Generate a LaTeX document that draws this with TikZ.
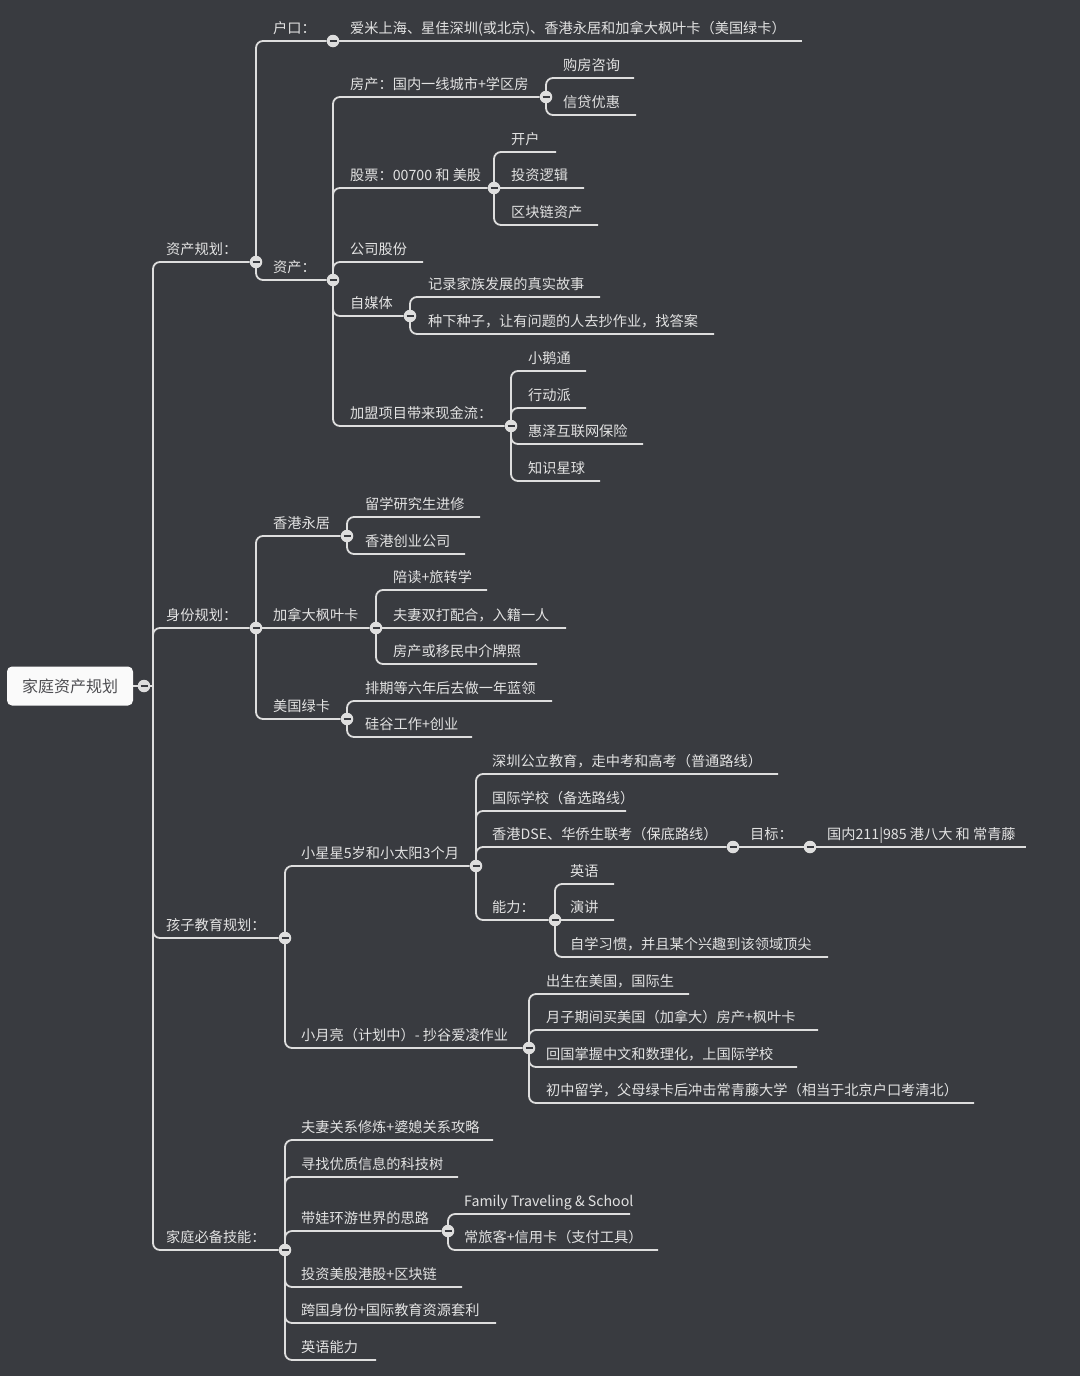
\documentclass[tikz,border=0pt]{standalone}
\usepackage{fontspec}
\setmainfont{Noto Sans CJK SC}
\usetikzlibrary{backgrounds}

\definecolor{bgcol}{RGB}{57,59,64}
\definecolor{linecol}{RGB}{222,222,222}
\definecolor{txtcol}{RGB}{226,226,226}
\definecolor{rootcol}{RGB}{78,78,82}

\tikzset{
  lbl/.style={anchor=base west, inner sep=0pt, yshift=-2pt, text=txtcol, font=\fontsize{14.2}{16}\selectfont},
  branch/.style={draw=linecol, line width=1.8pt, rounded corners=7pt},
  fold/.style={circle, fill=linecol, inner sep=0pt, minimum size=12.5pt,
    path picture={\draw[bgcol, line width=1.6pt]
      ([xshift=-3.5pt]path picture bounding box.center) -- ([xshift=3.5pt]path picture bounding box.center);}},
  rootbox/.style={fill=white!96!gray, rounded corners=5pt, minimum width=126pt, minimum height=39pt,
    text=rootcol, font=\fontsize{16}{18}\selectfont}
}

\begin{document}
\begin{tikzpicture}[x=1pt, y=-1pt]
  \begin{scope}[on background layer]
    \fill[bgcol] (0,0) rectangle (1080,1376);
  \end{scope}

  % Root
  \node[rootbox] (n0) at (70,686) {家庭资产规划};
  \node[fold] (c0) at (144,686) {};
  \coordinate (j0) at (153,686);

  % Level 1
  \node[lbl] (t1) at (166,252) {资产规划：};
  \node[fold] (c1) at (256,262) {};
  \node[lbl] (t2) at (166,618) {身份规划：};
  \node[fold] (c2) at (256,628) {};
  \node[lbl] (t3) at (166,928) {孩子教育规划：};
  \node[fold] (c3) at (285,938) {};
  \node[lbl] (t4) at (166,1240) {家庭必备技能：};
  \node[fold] (c4) at (285,1250) {};

  % Asset planning
  \node[lbl] (t11) at (273,31) {户口：};
  \node[fold] (c11) at (333,41) {};
  \node[lbl] (t111) at (350,31) {爱米上海、星佳深圳(或北京)、香港永居和加拿大枫叶卡（美国绿卡）};
  \coordinate (u111) at (802,41);
  \node[lbl] (t12) at (273,270) {资产：};
  \node[fold] (c12) at (333,280) {};

  \node[lbl] (t121) at (350,87) {房产：国内一线城市+学区房};
  \node[fold] (c121) at (546,97) {};
  \node[lbl] (t1211) at (563,68) {购房咨询};
  \coordinate (u1211) at (634,78);
  \node[lbl] (t1212) at (563,105) {信贷优惠};
  \coordinate (u1212) at (636,115);

  \node[lbl] (t122) at (350,178) {股票：00700 和 美股};
  \node[fold] (c122) at (494,188) {};
  \node[lbl] (t1221) at (511,142) {开户};
  \coordinate (u1221) at (556,152);
  \node[lbl] (t1222) at (511,178) {投资逻辑};
  \coordinate (u1222) at (584,188);
  \node[lbl] (t1223) at (511,215) {区块链资产};
  \coordinate (u1223) at (598,225);

  \node[lbl] (t123) at (350,252) {公司股份};
  \coordinate (u123) at (423,262);

  \node[lbl] (t124) at (350,306) {自媒体};
  \node[fold] (c124) at (410,316) {};
  \node[lbl] (t1241) at (428,287) {记录家族发展的真实故事};
  \coordinate (u1241) at (600,297);
  \node[lbl] (t1242) at (428,324) {种下种子，让有问题的人去抄作业，找答案};
  \coordinate (u1242) at (714,334);

  \node[lbl] (t125) at (350,416) {加盟项目带来现金流：};
  \node[fold] (c125) at (511,426) {};
  \node[lbl] (t1251) at (528,361) {小鹅通};
  \coordinate (u1251) at (586,371);
  \node[lbl] (t1252) at (528,398) {行动派};
  \coordinate (u1252) at (586,408);
  \node[lbl] (t1253) at (528,434) {惠泽互联网保险};
  \coordinate (u1253) at (643,444);
  \node[lbl] (t1254) at (528,471) {知识星球};
  \coordinate (u1254) at (600,481);

  % Identity planning
  \node[lbl] (t21) at (273,526) {香港永居};
  \node[fold] (c21) at (347,536) {};
  \node[lbl] (t211) at (365,507) {留学研究生进修};
  \coordinate (u211) at (480,517);
  \node[lbl] (t212) at (365,544) {香港创业公司};
  \coordinate (u212) at (465,554);

  \node[lbl] (t22) at (273,618) {加拿大枫叶卡};
  \node[fold] (c22) at (376,628) {};
  \node[lbl] (t221) at (393,580) {陪读+旅转学};
  \coordinate (u221) at (487,590);
  \node[lbl] (t222) at (393,618) {夫妻双打配合，入籍一人};
  \coordinate (u222) at (566,628);
  \node[lbl] (t223) at (393,654) {房产或移民中介牌照};
  \coordinate (u223) at (537,664);

  \node[lbl] (t23) at (273,709) {美国绿卡};
  \node[fold] (c23) at (347,719) {};
  \node[lbl] (t231) at (365,691) {排期等六年后去做一年蓝领};
  \coordinate (u231) at (552,701);
  \node[lbl] (t232) at (365,727) {硅谷工作+创业};
  \coordinate (u232) at (472,737);

  % Children's education
  \node[lbl] (t31) at (301,856) {小星星5岁和小太阳3个月};
  \node[fold] (c31) at (476,866) {};
  \node[lbl] (t311) at (492,764) {深圳公立教育，走中考和高考（普通路线）};
  \coordinate (u311) at (778,774);
  \node[lbl] (t312) at (492,801) {国际学校（备选路线）};
  \coordinate (u312) at (626,811);
  \node[lbl] (t313) at (492,837) {香港DSE、华侨生联考（保底路线）};
  \node[fold] (c313) at (733,847) {};
  \node[lbl] (t3131) at (750,837) {目标：};
  \node[fold] (c3131) at (810,847) {};
  \node[lbl] (t31311) at (827,837) {国内211|985 港八大 和 常青藤};
  \coordinate (u31311) at (1026,847);
  \node[lbl] (t314) at (492,910) {能力：};
  \node[fold] (c314) at (555,920) {};
  \node[lbl] (t3141) at (570,874) {英语};
  \coordinate (u3141) at (614,884);
  \node[lbl] (t3142) at (570,910) {演讲};
  \coordinate (u3142) at (614,920);
  \node[lbl] (t3143) at (570,947) {自学习惯，并且某个兴趣到该领域顶尖};
  \coordinate (u3143) at (828,957);

  \node[lbl] (t32) at (301,1038) {小月亮（计划中）- 抄谷爱凌作业};
  \node[fold] (c32) at (529,1048) {};
  \node[lbl] (t321) at (546,984) {出生在美国，国际生};
  \coordinate (u321) at (689,994);
  \node[lbl] (t322) at (546,1020) {月子期间买美国（加拿大）房产+枫叶卡};
  \coordinate (u322) at (818,1030);
  \node[lbl] (t323) at (546,1057) {回国掌握中文和数理化，上国际学校};
  \coordinate (u323) at (797,1067);
  \node[lbl] (t324) at (546,1093) {初中留学，父母绿卡后冲击常青藤大学（相当于北京户口考清北）};
  \coordinate (u324) at (974,1103);

  % Family skills
  \node[lbl] (t41) at (301,1130) {夫妻关系修炼+婆媳关系攻略};
  \coordinate (u41) at (493,1140);
  \node[lbl] (t42) at (301,1167) {寻找优质信息的科技树};
  \coordinate (u42) at (458,1177);
  \node[lbl] (t43) at (301,1221) {带娃环游世界的思路};
  \node[fold] (c43) at (448,1231) {};
  \node[lbl] (t431) at (464,1204) {Family Traveling \& School};
  \coordinate (u431) at (630,1214);
  \node[lbl] (t432) at (464,1240) {常旅客+信用卡（支付工具）};
  \coordinate (u432) at (658,1250);
  \node[lbl] (t44) at (301,1277) {投资美股港股+区块链};
  \coordinate (u44) at (462,1287);
  \node[lbl] (t45) at (301,1313) {跨国身份+国际教育资源套利};
  \coordinate (u45) at (496,1323);
  \node[lbl] (t46) at (301,1350) {英语能力};
  \coordinate (u46) at (376,1360);

  % Connectors
  \begin{scope}[on background layer]
    \foreach \src/\dst in {n0/c0, c0/j0, c11/u111, c313/c3131, c3131/u31311}
      \draw[branch] (\src) -- (\dst);
    \foreach \src/\dst in {j0/c1, j0/c2, j0/c3, j0/c4,
        c1/c11, c1/c12,
        c12/c121, c12/c122, c12/u123, c12/c124, c12/c125,
        c121/u1211, c121/u1212,
        c122/u1221, c122/u1222, c122/u1223,
        c124/u1241, c124/u1242,
        c125/u1251, c125/u1252, c125/u1253, c125/u1254,
        c2/c21, c2/c22, c2/c23,
        c21/u211, c21/u212,
        c22/u221, c22/u222, c22/u223,
        c23/u231, c23/u232,
        c3/c31, c3/c32,
        c31/u311, c31/u312, c31/c313, c31/c314,
        c314/u3141, c314/u3142, c314/u3143,
        c32/u321, c32/u322, c32/u323, c32/u324,
        c4/u41, c4/u42, c4/c43, c4/u44, c4/u45, c4/u46,
        c43/u431, c43/u432}
      \draw[branch] (\src.center) |- (\dst);
  \end{scope}
\end{tikzpicture}
\end{document}
